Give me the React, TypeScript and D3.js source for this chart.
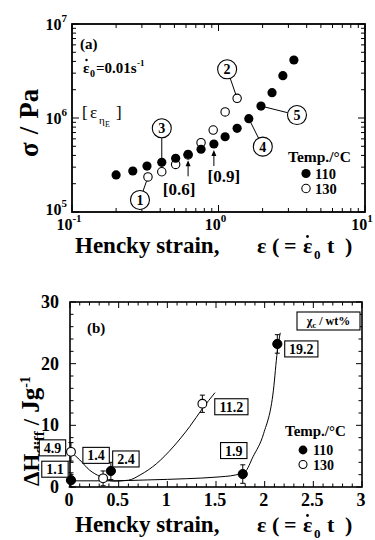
import React from 'react';
import * as d3 from 'd3';

// panel (a): stress vs strain, log-log
const filledX = [0.2, 0.26, 0.325, 0.41, 0.51, 0.62, 0.76, 0.93, 1.11, 1.34, 1.61, 1.95, 2.32, 2.75, 3.27];
const filledS = [2.48e5, 2.73e5, 3.08e5, 3.38e5, 3.73e5, 4.11e5, 4.65e5, 5.29e5, 6.32e5, 7.77e5, 9.84e5, 1.34e6, 1.86e6, 2.82e6, 4.14e6];
const openX = [0.33, 0.41, 0.51, 0.62, 0.76, 0.92, 1.11, 1.34];
const openS = [2.36e5, 2.68e5, 3.21e5, 4.04e5, 5.46e5, 7.45e5, 1.16e6, 1.62e6];
const xTicksA = [0.1, 1, 10];
const xExpA = ['-1', '0', '1'];
const yTicksA = [1e5, 1e6, 1e7];
const yExpA = ['5', '6', '7'];
// circled labels: [text, series, index, dx, dy]
const circled: [string, 'f' | 'o', number, number, number][] = [
  ['1', 'o', 0, -8, 23],
  ['2', 'o', 7, -10, -29],
  ['3', 'f', 3, 0, -34],
  ['4', 'f', 10, 14, 28],
  ['5', 'f', 11, 36, 9],
];
const brackets: [string, number, number, number][] = [
  ['[0.6]', 5, -9, 35],
  ['[0.9]', 7, 10, 32],
];

// panel (b): enthalpy vs strain
const bFilledX = [0.01, 0.42, 1.775, 2.13];
const bFilledY = [1.1, 2.6, 2.1, 23.2];
const bFilledErr = [1.2, 1.4, 1.5, 1.5];
const bOpenX = [0.01, 0.34, 1.36];
const bOpenY = [5.7, 1.4, 13.5];
const bOpenErr = [1.5, 1.2, 1.4];
const bFilledLab = ['1.1', '2.4', '1.9', '19.2'];
const bFilledOff = [[-16, -11], [15, -12], [-9, -23.5], [24, 5]];
const bOpenLab = ['4.9', '1.4', '11.2'];
const bOpenOff = [[-18.5, -4], [-7, -23], [29, 3]];
const openCurveX = [0.01, 0.1, 0.2, 0.31, 0.45, 0.6, 0.72, 0.89, 1.06, 1.23, 1.36, 1.49];
const openCurveY = [5.7, 4.4, 2.75, 1.7, 0.95, 1.1, 1.95, 3.8, 6.5, 9.8, 12.7, 15.3];
const filledCurveX = [0.01, 0.4, 0.8, 1.2, 1.5, 1.7, 1.8, 1.88, 1.99, 2.09, 2.13, 2.16];
const filledCurveY = [1.0, 1.0, 1.15, 1.35, 1.6, 1.95, 2.5, 4.9, 8.7, 15.7, 22, 25];
const xTicksB = [0, 0.5, 1, 1.5, 2, 2.5, 3];
const yTicksB = [0, 10, 20, 30];

const FONT = '"Liberation Serif", "DejaVu Serif", serif';

// "ε(=ε̇0 t)" with each glyph placed like the scan
function StrainLabel({ x, y }: { x: number; y: number }) {
  return (
    <g fontSize={22} fontWeight="bold">
      <text x={x} y={y}>ε</text>
      <text x={x + 15} y={y}>(</text>
      <text x={x + 27} y={y}>=</text>
      <text x={x + 46} y={y}>ε</text>
      <circle cx={x + 50.5} cy={y - 16.5} r={1.4} fill="black" />
      <text x={x + 57} y={y + 6} fontSize={13}>0</text>
      <text x={x + 70} y={y}>t</text>
      <text x={x + 88} y={y}>)</text>
    </g>
  );
}

export default function App() {
  const xa = d3.scaleLog().domain([0.1, 10]).range([72, 365]);
  const ya = d3.scaleLog().domain([1e5, 1e7]).range([212, 24]);
  const xb = d3.scaleLinear().domain([0, 3]).range([70, 362]);
  const yb = d3.scaleLinear().domain([0, 30]).range([487, 302]);

  const isMajor = (v: number) => Math.abs(Math.log10(v) - Math.round(Math.log10(v))) < 1e-6;

  const ptA = (k: 'f' | 'o', i: number) =>
    k === 'f' ? [xa(filledX[i]), ya(filledS[i])] : [xa(openX[i]), ya(openS[i])];

  const openPath = d3.line<number>().curve(d3.curveMonotoneX)
    .x((_, i) => xb(openCurveX[i])).y((d) => yb(d))(openCurveY);
  const filledPath = d3.line<number>().curve(d3.curveMonotoneX)
    .x((_, i) => xb(filledCurveX[i])).y((d) => yb(d))(filledCurveY);

  const minorXB = d3.range(0, 3.0001, 0.1);
  const minorYB = d3.range(0, 30.001, 2);

  const labelBox = (t: string, cx: number, cy: number, key: string) => {
    const w = t.length * 6.8 + 6;
    return (
      <g key={key}>
        <rect x={cx - w / 2} y={cy - 8} width={w} height={16} fill="white" stroke="black" strokeWidth={1.1} />
        <text x={cx} y={cy + 5} textAnchor="middle" fontSize={14} fontWeight="bold">{t}</text>
      </g>
    );
  };

  return (
    <svg width={375} height={540} style={{ position: 'absolute', left: 0, top: 0, background: 'white', fontFamily: FONT }}>
      {/* ---------- panel (a) ---------- */}
      <rect x={72} y={24} width={293} height={188} fill="none" stroke="black" strokeWidth={1.8} />
      {xa.ticks().map((v, i) => {
        const l = isMajor(v) ? 7 : 4;
        const x = xa(v);
        return (
          <g key={'xa' + i} stroke="black" strokeWidth={1}>
            <line x1={x} x2={x} y1={212} y2={212 - l} />
            <line x1={x} x2={x} y1={24} y2={24 + l} />
          </g>
        );
      })}
      {ya.ticks().map((v, i) => {
        const l = isMajor(v) ? 7 : 4;
        const y = ya(v);
        return (
          <g key={'ya' + i} stroke="black" strokeWidth={1}>
            <line x1={72} x2={72 + l} y1={y} y2={y} />
            <line x1={365} x2={365 - l} y1={y} y2={y} />
          </g>
        );
      })}
      {xTicksA.map((v, i) => (
        <text key={'xl' + i} x={xa(v) - 3} y={230} textAnchor="middle" fontSize={16} fontWeight="bold">
          10<tspan fontSize={11} dy={-8}>{xExpA[i]}</tspan>
        </text>
      ))}
      {yTicksA.map((v, i) => (
        <text key={'yl' + i} x={67} y={ya(v) + (i === 0 ? 3 : 6)} textAnchor="end" fontSize={16} fontWeight="bold">
          10<tspan fontSize={11} dy={-8}>{yExpA[i]}</tspan>
        </text>
      ))}
      <text transform="translate(38,157) rotate(-90)" fontSize={27} fontWeight="bold">
        σ<tspan dx={8}>/</tspan><tspan dx={8}>Pa</tspan>
      </text>
      <text x={75} y={253} fontSize={23} fontWeight="bold">Hencky strain,</text>
      <StrainLabel x={257} y={253} />

      <text x={80} y={49} fontSize={15} fontWeight="bold">(a)</text>
      <g fontSize={15} fontWeight="bold">
        <text x={83} y={73}>ε</text>
        <circle cx={86.5} cy={60} r={1.2} fill="black" />
        <text x={90} y={77} fontSize={10}>0</text>
        <text x={96} y={73}>=0.01s</text>
        <text x={137} y={66} fontSize={9}>-1</text>
      </g>
      <g fontSize={17}>
        <text x={82} y={118}>[</text>
        <text x={90} y={118}>ε</text>
        <text x={99} y={124} fontSize={11}>η</text>
        <text x={105} y={127} fontSize={8}>E</text>
        <text x={116} y={118}>]</text>
      </g>

      {/* annotation leaders */}
      {circled.map(([t, k, i, dx, dy]) => {
        const [px, py] = ptA(k, i);
        const cx = px + dx, cy = py + dy;
        const len = Math.hypot(dx, dy);
        return (
          <g key={'c' + t}>
            <line x1={px} y1={py} x2={cx - (dx / len) * 9.5} y2={cy - (dy / len) * 9.5} stroke="black" strokeWidth={1} />
            <circle cx={cx} cy={cy} r={9.5} fill="white" stroke="black" strokeWidth={1.1} />
            <text x={cx} y={cy + 5} textAnchor="middle" fontSize={14} fontWeight="bold">{t}</text>
          </g>
        );
      })}
      {brackets.map(([t, i, dx, dy]) => {
        const [px, py] = ptA('f', i);
        return (
          <g key={t}>
            <line x1={px} x2={px} y1={py + 8} y2={py + 22} stroke="black" strokeWidth={1} />
            <path d={`M${px},${py + 6} L${px - 2.5},${py + 12} L${px + 2.5},${py + 12} Z`} fill="black" />
            <text x={px + dx} y={py + dy + 6} textAnchor="middle" fontSize={17} fontWeight="bold">{t}</text>
          </g>
        );
      })}

      {openX.map((x, i) => (
        <circle key={'oa' + i} cx={xa(x)} cy={ya(openS[i])} r={4.2} fill="white" stroke="black" strokeWidth={1.1} />
      ))}
      {filledX.map((x, i) => (
        <circle key={'fa' + i} cx={xa(x)} cy={ya(filledS[i])} r={4.6} fill="black" />
      ))}

      <text x={288} y={162} fontSize={15.5} fontWeight="bold">Temp./°C</text>
      <circle cx={306} cy={173.5} r={4.6} fill="black" />
      <text x={315} y={178.5} fontSize={14.5} fontWeight="bold">110</text>
      <circle cx={306} cy={188.5} r={4.2} fill="white" stroke="black" strokeWidth={1.1} />
      <text x={315} y={193.5} fontSize={14.5} fontWeight="bold">130</text>

      {/* ---------- panel (b) ---------- */}
      <rect x={70} y={302} width={292} height={185} fill="none" stroke="black" strokeWidth={1.6} />
      {minorXB.map((v, i) => {
        const x = xb(v);
        const l = i % 5 === 0 ? 6 : 3.5;
        return (
          <g key={'xb' + i} stroke="black" strokeWidth={1}>
            <line x1={x} x2={x} y1={487} y2={487 - l} />
            <line x1={x} x2={x} y1={302} y2={302 + l} />
          </g>
        );
      })}
      {minorYB.map((v, i) => {
        const y = yb(v);
        const l = v % 10 === 0 ? 6 : 3.5;
        return (
          <g key={'yb' + i} stroke="black" strokeWidth={1}>
            <line x1={70} x2={70 + l} y1={y} y2={y} />
            <line x1={362} x2={362 - l} y1={y} y2={y} />
          </g>
        );
      })}
      {xTicksB.map((v) => (
        <text key={'xbl' + v} x={xb(v) - 1} y={506} textAnchor="middle" fontSize={18} fontWeight="bold">{v}</text>
      ))}
      {yTicksB.map((v) => (
        <text key={'ybl' + v} x={59} y={yb(v) + 6} textAnchor="end" fontSize={18} fontWeight="bold">{v}</text>
      ))}
      <text transform="translate(39,486) rotate(-90)" fontSize={23} fontWeight="bold">
        ΔH<tspan fontSize={15} dy={5}>diff</tspan><tspan dx={6} dy={-5}>/</tspan><tspan dx={6} fontSize={25}>Jg</tspan>
        <tspan fontSize={14} dy={-9}>-1</tspan>
      </text>
      <text x={75} y={532} fontSize={23} fontWeight="bold">Hencky strain,</text>
      <StrainLabel x={257} y={532} />
      <text x={87} y={333} fontSize={15} fontWeight="bold">(b)</text>

      <path d={openPath || ''} fill="none" stroke="black" strokeWidth={1} />
      <path d={filledPath || ''} fill="none" stroke="black" strokeWidth={1} />

      {bOpenX.map((x, i) => {
        const cx = xb(x);
        const y1 = yb(bOpenY[i] + bOpenErr[i]);
        const y2 = yb(Math.max(0, bOpenY[i] - bOpenErr[i]));
        return (
          <g key={'ob' + i} stroke="black" strokeWidth={1}>
            <line x1={cx} x2={cx} y1={y1} y2={y2} />
            <line x1={cx - 2.5} x2={cx + 2.5} y1={y1} y2={y1} />
            <line x1={cx - 2.5} x2={cx + 2.5} y1={y2} y2={y2} />
            <circle cx={cx} cy={yb(bOpenY[i])} r={4.4} fill="white" strokeWidth={1.1} />
          </g>
        );
      })}
      {bFilledX.map((x, i) => {
        const cx = xb(x);
        const y1 = yb(bFilledY[i] + bFilledErr[i]);
        const y2 = yb(Math.max(0, bFilledY[i] - bFilledErr[i]));
        return (
          <g key={'fb' + i} stroke="black" strokeWidth={1}>
            <line x1={cx} x2={cx} y1={y1} y2={y2} />
            <line x1={cx - 2.5} x2={cx + 2.5} y1={y1} y2={y1} />
            <line x1={cx - 2.5} x2={cx + 2.5} y1={y2} y2={y2} />
            <circle cx={cx} cy={yb(bFilledY[i])} r={4.6} fill="black" />
          </g>
        );
      })}
      {bOpenX.map((x, i) => labelBox(bOpenLab[i], xb(x) + bOpenOff[i][0], yb(bOpenY[i]) + bOpenOff[i][1], 'lo' + i))}
      {bFilledX.map((x, i) => labelBox(bFilledLab[i], xb(x) + bFilledOff[i][0], yb(bFilledY[i]) + bFilledOff[i][1], 'lf' + i))}

      <rect x={297} y={312} width={63} height={18} fill="white" stroke="black" strokeWidth={1.1} />
      <text x={328.5} y={325} textAnchor="middle" fontSize={12} fontWeight="bold">
        χ<tspan fontSize={9} dy={3}>c</tspan><tspan dy={-3}> / wt%</tspan>
      </text>

      <text x={285} y={436} fontSize={15} fontWeight="bold">Temp./°C</text>
      <circle cx={303} cy={450} r={4.4} fill="black" />
      <text x={313} y={455} fontSize={14} fontWeight="bold">110</text>
      <circle cx={303} cy={464.5} r={4} fill="white" stroke="black" strokeWidth={1.1} />
      <text x={313} y={469.5} fontSize={14} fontWeight="bold">130</text>
    </svg>
  );
}
